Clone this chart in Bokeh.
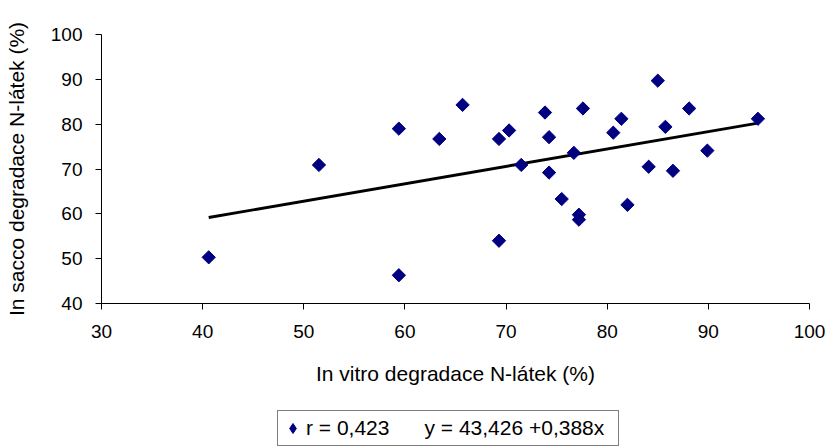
import numpy as np
from bokeh.plotting import figure
from bokeh.layouts import column
from bokeh.models import Legend, LegendItem, Range1d, FixedTicker
from bokeh.embed import file_html
from bokeh.resources import INLINE

# data
in_vitro = [40.6, 51.5, 59.4, 59.4, 63.4, 65.7, 69.3, 70.3, 69.3, 71.5,
            73.85, 74.25, 74.25, 75.5, 76.7, 77.2, 77.2, 77.6, 80.6, 81.4,
            82.0, 84.1, 85.0, 85.75, 86.5, 88.1, 89.9, 94.9]
in_sacco = [50.3, 70.9, 79.0, 46.3, 76.7, 84.3, 76.7, 78.6, 54.0, 70.9,
            82.6, 77.1, 69.2, 63.3, 73.6, 59.8, 58.7, 83.5, 78.1, 81.2,
            62.0, 70.5, 89.7, 79.4, 69.6, 83.5, 74.1, 81.2]
intercept = 43.426
slope = 0.388
r_value = "0,423"
equation = "y = 43,426 +0,388x"
x_ticks = [30, 40, 50, 60, 70, 80, 90, 100]
y_ticks = [40, 50, 60, 70, 80, 90, 100]
x_title = "In vitro degradace N-látek (%)"
y_title = "In sacco degradace N-látek (%)"

FONT = "Liberation Sans"
NAVY = "#000080"

p = figure(width=827, height=400, x_range=Range1d(30, 100), y_range=Range1d(40, 100),
           output_backend="svg", toolbar_location=None,
           min_border_left=101, min_border_right=18, min_border_top=34, min_border_bottom=97)
p.outline_line_color = None
p.grid.visible = False
p.background_fill_color = "white"
p.border_fill_color = "white"

p.xaxis.ticker = FixedTicker(ticks=x_ticks)
p.yaxis.ticker = FixedTicker(ticks=y_ticks)
for ax in (p.xaxis, p.yaxis):
    ax.axis_line_color = "black"
    ax.axis_line_width = 1
    ax.major_tick_line_color = "black"
    ax.major_tick_line_width = 1
    ax.major_tick_in = 0
    ax.major_tick_out = 6
    ax.minor_tick_line_color = None
    ax.minor_tick_out = 0
    ax.major_label_text_font = FONT
    ax.major_label_text_font_size = "19px"
    ax.major_label_text_color = "black"
    ax.axis_label_text_font = FONT
    ax.axis_label_text_font_size = "21px"
    ax.axis_label_text_font_style = "normal"
    ax.axis_label_text_color = "black"

p.xaxis.axis_label = x_title
p.yaxis.axis_label = y_title
p.xaxis.major_label_standoff = 15
p.xaxis.axis_label_standoff = 21
p.yaxis.major_label_standoff = 13
p.yaxis.axis_label_standoff = 20

# trend line from the regression equation
xs = np.array([min(in_vitro), max(in_vitro)])
p.line(xs, intercept + slope * xs, line_color="black", line_width=2.9)

p.scatter(in_vitro, in_sacco, marker="square", angle=np.pi / 4, size=9.4,
          fill_color=NAVY, line_color=NAVY)

# legend strip below the chart (its frame is aligned with the chart frame)
pl = figure(width=827, height=48, x_range=Range1d(0, 1), y_range=Range1d(0, 1),
            output_backend="svg", toolbar_location=None,
            x_axis_location=None, y_axis_location=None,
            min_border_left=0, min_border_right=0, min_border_top=0, min_border_bottom=0)
pl.outline_line_color = None
pl.grid.visible = False
pl.background_fill_color = "white"
pl.border_fill_color = "white"

# same data series; it lies outside this strip's ranges, only its legend glyph shows
leg_r = pl.scatter(in_vitro, in_sacco, marker="diamond", fill_color=NAVY, line_color=NAVY)

label = "r = " + r_value + "\u00a0" * 6 + equation + "\u00a0\u00a0"
legend = Legend(items=[LegendItem(label=label, renderers=[leg_r])],
                location=(176, 2), orientation="vertical",
                padding=2, margin=0, spacing=0,
                glyph_width=25, glyph_height=30, label_standoff=1,
                label_text_font=FONT, label_text_font_size="21px",
                label_text_color="black",
                border_line_color="black", border_line_width=1,
                background_fill_color="white", background_fill_alpha=1)
pl.add_layout(legend, "center")

layout = column(p, pl, spacing=0)
open("out.html", "w").write(file_html(layout, INLINE))
